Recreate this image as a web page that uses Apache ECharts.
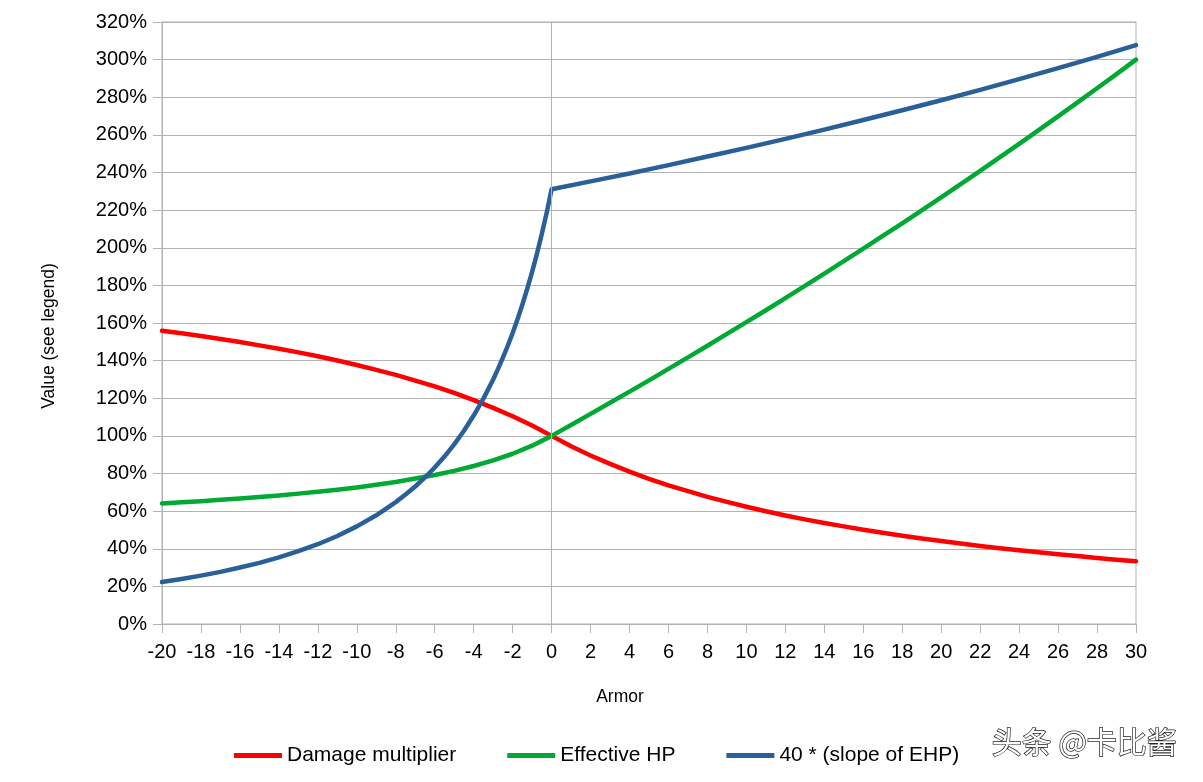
<!DOCTYPE html>
<html>
<head>
<meta charset="utf-8">
<script src="https://cdn.jsdelivr.net/npm/echarts@6/dist/echarts.min.js"></script>
<style>html,body{margin:0;padding:0;background:#fff}#c{width:1203px;height:782px}</style>
</head>
<body>
<div id="c"></div>
<script>
const armor = [-20,-19,-18,-17,-16,-15,-14,-13,-12,-11,-10,-9,-8,-7,-6,-5,-4,-3,-2,-1,0,1,2,3,4,5,6,7,8,9,10,11,12,13,14,15,16,17,18,19,20,21,22,23,24,25,26,27,28,29,30];
const damageMultiplier = [155.9,154.5,153.1,151.5,149.9,148.1,146.3,144.4,142.3,140.1,137.7,135.1,132.4,129.4,126.3,122.8,119.0,114.9,110.4,105.5,100,94.5,89.6,85.1,81.0,77.2,73.7,70.6,67.6,64.9,62.3,59.9,57.7,55.6,53.7,51.9,50.1,48.5,46.9,45.5,44.1,42.8,41.5,40.3,39.2,38.1,37.1,36.1,35.1,34.2,33.3];
const effectiveHP = [64.1,64.7,65.3,66.0,66.7,67.5,68.3,69.3,70.3,71.4,72.6,74.0,75.5,77.3,79.2,81.4,84.0,87.0,90.5,94.8,100,105.8,111.7,117.6,123.5,129.5,135.6,141.7,147.9,154.2,160.5,166.8,173.2,179.7,186.3,192.9,199.5,206.3,213.0,219.9,226.8,233.8,240.9,248.0,255.2,262.5,269.8,277.3,284.8,292.3,300.0];
const slopeArmor = [-20,-19,-18,-17,-16,-15,-14,-13,-12,-11,-10,-9,-8,-7.5,-7,-6.5,-6,-5.5,-5,-4.5,-4,-3.5,-3,-2.75,-2.5,-2.25,-2,-1.75,-1.5,-1.25,-1,-0.75,-0.5,-0.25,0,2,4,6,8,10,12,14,16,18,20,22,24,26,28,30];
const slopeEHP = [22.3,23.9,25.7,27.7,30.0,32.5,35.4,38.7,42.4,46.8,51.9,57.8,64.8,68.8,73.1,77.9,83.2,89.0,95.5,102.7,110.8,119.8,130.0,135.6,141.6,147.9,154.7,162.0,169.8,178.2,187.2,196.9,207.4,218.8,231.1,235.3,239.5,243.9,248.5,253.1,257.9,262.8,267.9,273.1,278.4,283.9,289.6,295.5,301.5,307.7];
const seriesNames = ['Damage multiplier', 'Effective HP', '40 * (slope of EHP)'];

const chart = echarts.init(document.getElementById('c'), null, {renderer: 'canvas'});
const font = 'Liberation Sans, Arial, sans-serif';
const gridColor = '#b3b3b3';
function lineSeries(name, xs, ys, color, extra) {
  return Object.assign({
    name: name, type: 'line', showSymbol: false, symbol: 'none',
    data: xs.map((x, i) => [x, ys[i]]),
    lineStyle: {color: color, width: 4.5, join: 'round', cap: 'round'},
    itemStyle: {color: color},
    animation: false
  }, extra || {});
}
chart.setOption({
  animation: false,
  backgroundColor: '#ffffff',
  textStyle: {fontFamily: font},
  grid: {left: 162, right: 67, top: 22, bottom: 158, show: true, borderColor: gridColor, borderWidth: 1},
  legend: {
    left: 229, top: 740, itemWidth: 48, itemHeight: 5, itemGap: 51, icon: 'rect',
    textStyle: {fontFamily: font, fontSize: 21, color: '#000'},
    data: seriesNames
  },
  xAxis: {
    type: 'value', min: -20, max: 30, interval: 2,
    name: 'Armor', nameLocation: 'middle', nameGap: 64,
    nameTextStyle: {fontFamily: font, fontSize: 17.5, color: '#000', padding: [0, 58, 0, 0]},
    axisLine: {show: true, onZero: false, lineStyle: {color: gridColor, width: 1}},
    axisTick: {show: true, length: 9, inside: false, lineStyle: {color: gridColor}},
    axisLabel: {fontFamily: font, fontSize: 20, color: '#000', margin: 18},
    splitLine: {show: false}
  },
  yAxis: {
    type: 'value', min: 0, max: 320, interval: 20,
    name: 'Value (see legend)', nameLocation: 'middle', nameGap: 104, nameRotate: 90,
    nameTextStyle: {fontFamily: font, fontSize: 17.5, color: '#000', padding: [0, 26, 0, 0]},
    axisLine: {show: true, onZero: false, lineStyle: {color: gridColor, width: 1}},
    axisTick: {show: true, length: 9, inside: false, lineStyle: {color: gridColor}},
    axisLabel: {fontFamily: font, fontSize: 20, color: '#000', margin: 15, formatter: '{value}%'},
    splitLine: {show: true, lineStyle: {color: gridColor, width: 1}}
  },
  graphic: [{
    type: 'text', left: 991, top: 726, silent: true,
    style: {text: '头条 @卡比酱', font: '30px "Noto Sans CJK SC"', fill: '#ffffff', stroke: '#222222', lineWidth: 1.4}
  }],
  series: [
    lineSeries(seriesNames[0], armor, damageMultiplier, '#ff0000', {
      markLine: {silent: true, symbol: 'none', label: {show: false},
        lineStyle: {color: gridColor, width: 1, type: 'solid'}, data: [{xAxis: 0}], animation: false}
    }),
    lineSeries(seriesNames[1], armor, effectiveHP, '#00a933'),
    lineSeries(seriesNames[2], slopeArmor, slopeEHP, '#2a6099')
  ]
});
</script>
</body>
</html>
